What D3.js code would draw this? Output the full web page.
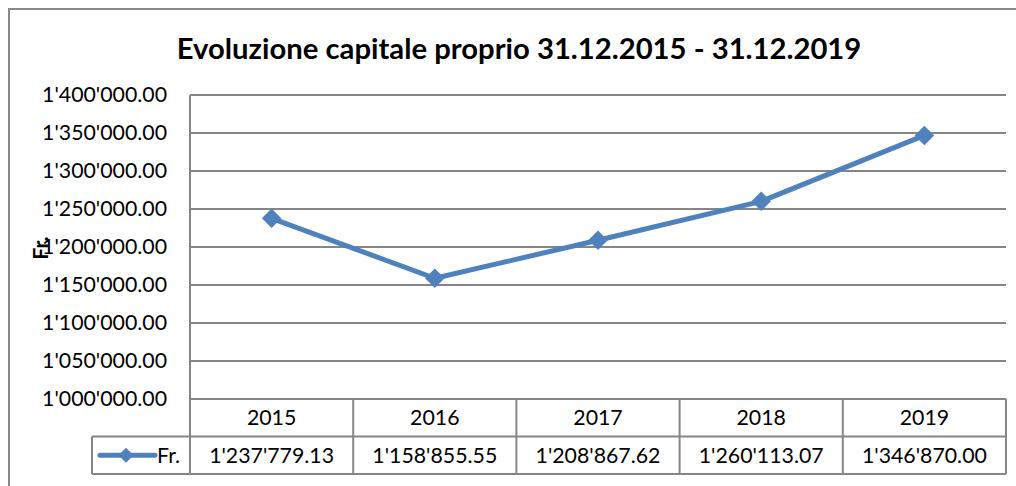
<!DOCTYPE html>
<html><head><meta charset="utf-8">
<script src="https://cdn.jsdelivr.net/npm/d3@7"></script>
<style>html,body{margin:0;padding:0;background:#fff;}svg{display:block;}</style>
</head><body>
<svg id="c" width="1016" height="486"></svg>
<script>
const years = ["2015","2016","2017","2018","2019"];
const values = [1237779.13, 1158855.55, 1208867.62, 1260113.07, 1346870.00];
const valueLabels = ["1'237'779.13","1'158'855.55","1'208'867.62","1'260'113.07","1'346'870.00"];
const yTicks = [1000000,1050000,1100000,1150000,1200000,1250000,1300000,1350000,1400000];
const seriesName = "Fr.";
const title = "Evoluzione capitale proprio 31.12.2015 - 31.12.2019";

const font = "Lato, 'Open Sans', sans-serif";
const svg = d3.select("#c");
const L = 190, R = 1006, T = 95, B = 399;
const rowH = 37.5;
const legendL = 92;
const gridCol = "#868686";
const blue = "#4F81BD";

function fmt(v){
  const s = v.toFixed(2); const [i,d] = s.split(".");
  return i.replace(/\B(?=(\d{3})+(?!\d))/g, "'") + "." + d;
}

// measure font size so label width matches
const probe = svg.append("text").attr("font-family",font).attr("font-size",20).text("1'400'000.00");
const fs = 20*125/probe.node().getComputedTextLength();
probe.remove();

// outer border
svg.append("rect").attr("x",9).attr("y",9).attr("width",1030).attr("height",500)
  .attr("fill","none").attr("stroke","#888").attr("stroke-width",2);

const x = d3.scaleBand().domain(years).range([L,R]).padding(0);
const y = d3.scaleLinear().domain([1000000,1400000]).range([B,T]);

// gridlines
svg.append("g").selectAll("line").data(yTicks).join("line")
  .attr("x1",L).attr("x2",R).attr("y1",d=>y(d)).attr("y2",d=>y(d))
  .attr("stroke",gridCol).attr("stroke-width",2);
svg.append("line").attr("x1",L).attr("x2",L).attr("y1",T).attr("y2",B)
  .attr("stroke",gridCol).attr("stroke-width",2);

// y labels
svg.append("g").selectAll("text").data(yTicks).join("text")
  .attr("x",167).attr("y",d=>y(d)).attr("dy","0.35em")
  .attr("text-anchor","end").attr("font-family",font).attr("font-size",fs)
  .attr("fill","#000").text(d=>fmt(d));

// y title
svg.append("text").attr("transform",`translate(48,248) rotate(-90)`)
  .attr("text-anchor","middle").attr("font-family",font).attr("font-weight","bold")
  .attr("font-size",fs).text(seriesName);

// title
const tt = svg.append("text").attr("x",519).attr("y",59).attr("text-anchor","middle")
  .attr("font-family",font).attr("font-weight","bold").attr("font-size",25).text(title);
const tw = tt.node().getComputedTextLength();
tt.attr("font-size", 25*685/tw);

// data table
const tb = svg.append("g");
const colBounds = years.map(d=>x(d)).concat([R]);
tb.append("line").attr("x1",legendL).attr("x2",R).attr("y1",B+rowH).attr("y2",B+rowH).attr("stroke",gridCol).attr("stroke-width",2);
tb.append("line").attr("x1",legendL).attr("x2",R).attr("y1",B+2*rowH).attr("y2",B+2*rowH).attr("stroke",gridCol).attr("stroke-width",2);
tb.selectAll("line.v").data(colBounds).join("line").attr("class","v")
  .attr("x1",d=>d).attr("x2",d=>d).attr("y1",B).attr("y2",B+2*rowH)
  .attr("stroke",gridCol).attr("stroke-width",2);
tb.append("line").attr("x1",legendL).attr("x2",legendL).attr("y1",B+rowH).attr("y2",B+2*rowH)
  .attr("stroke",gridCol).attr("stroke-width",2);
tb.selectAll("text.yr").data(years).join("text").attr("class","yr")
  .attr("x",d=>x(d)+x.bandwidth()/2).attr("y",B+rowH/2).attr("dy","0.35em")
  .attr("text-anchor","middle").attr("font-family",font).attr("font-size",fs).text(d=>d);
tb.selectAll("text.val").data(valueLabels).join("text").attr("class","val")
  .attr("x",(d,i)=>x(years[i])+x.bandwidth()/2).attr("y",B+rowH*1.5).attr("dy","0.35em")
  .attr("text-anchor","middle").attr("font-family",font).attr("font-size",fs).text(d=>d);
const ly = B+rowH*1.5;
tb.append("line").attr("x1",100).attr("x2",155).attr("y1",ly).attr("y2",ly)
  .attr("stroke",blue).attr("stroke-width",5).attr("stroke-linecap","round");
tb.append("path").attr("d",d3.symbol(d3.symbolSquare,115)()).attr("fill",blue)
  .attr("transform",`translate(126,${ly}) rotate(45)`);
tb.append("text").attr("x",157).attr("y",ly).attr("dy","0.35em")
  .attr("font-family",font).attr("font-size",fs).text(seriesName);

// line
const line = d3.line().x((d,i)=>x(years[i])+x.bandwidth()/2).y(d=>y(d));
svg.append("path").datum(values).attr("d",line).attr("fill","none")
  .attr("stroke",blue).attr("stroke-width",5).attr("stroke-linejoin","round");
svg.append("g").selectAll("path").data(values).join("path")
  .attr("d",d3.symbol(d3.symbolSquare,190)()).attr("fill",blue)
  .attr("transform",(d,i)=>`translate(${x(years[i])+x.bandwidth()/2},${y(d)}) rotate(45)`);
</script>
</body></html>
